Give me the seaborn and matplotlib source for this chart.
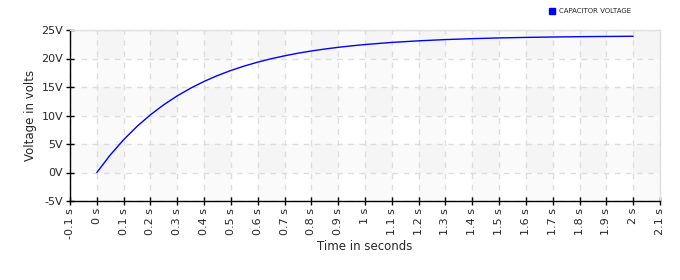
import matplotlib
matplotlib.use("Agg")
import matplotlib.pyplot as plt
import seaborn as sns
import pandas as pd
from matplotlib.lines import Line2D

# Data
time_s = [0.0, 0.05, 0.1, 0.15, 0.2, 0.25, 0.3, 0.35, 0.4, 0.45, 0.5, 0.55, 0.6,
          0.65, 0.7, 0.75, 0.8, 0.85, 0.9, 0.95, 1.0, 1.1, 1.2, 1.3, 1.4, 1.5,
          1.6, 1.7, 1.8, 1.9, 2.0]
voltage_v = [0.0, 3.07, 5.76, 8.09, 10.13, 11.90, 13.45, 14.80, 15.98, 17.01,
             17.90, 18.68, 19.36, 19.96, 20.47, 20.93, 21.32, 21.66, 21.96,
             22.22, 22.45, 22.82, 23.10, 23.32, 23.48, 23.61, 23.70, 23.77,
             23.83, 23.87, 23.90]
series_name = "CAPACITOR VOLTAGE"
x_ticks = [round(-0.1 + 0.1 * i, 1) for i in range(23)]
y_ticks = [-5, 0, 5, 10, 15, 20, 25]
x_label = "Time in seconds"
y_label = "Voltage in volts"

df = pd.DataFrame({"t": time_s, "v": voltage_v})

sns.set_style("white")
plt.rcParams["font.family"] = ["DejaVu Sans"]

fig = plt.figure(figsize=(6.8, 2.8), dpi=100)
ax = fig.add_axes([70 / 680, 1 - 201 / 280, 590 / 680, 171 / 280])

# alternating background bands
for k in range(1, 22, 2):
    ax.axvspan(x_ticks[k], x_ticks[k] + 0.1, color="#000000", alpha=0.018, lw=0, zorder=0)
for y0 in [0, 10, 20]:
    ax.axhspan(y0, y0 + 5, color="#000000", alpha=0.018, lw=0, zorder=0)

sns.lineplot(data=df, x="t", y="v", ax=ax, color="#0000ff", lw=1.0, zorder=3)

ax.set_xlim(-0.1, 2.1)
ax.set_ylim(-5, 25)
ax.set_xticks(x_ticks)
ax.set_xticklabels([f"{v:g} s" for v in x_ticks], rotation=90, fontsize=8)
ax.set_yticks(y_ticks)
ax.set_yticklabels([f"{v}V" for v in y_ticks], fontsize=8)
ax.tick_params(axis="both", which="major", bottom=True, left=True, direction="inout",
               length=6, width=1, color="black", pad=2)

ax.grid(True, color="#dddddd", linestyle=(0, (4, 4)), linewidth=1)
ax.set_axisbelow(True)

for side in ["left", "bottom"]:
    ax.spines[side].set_color("black")
    ax.spines[side].set_linewidth(1)
for side in ["top", "right"]:
    ax.spines[side].set_color("#e0e0e0")
    ax.spines[side].set_linewidth(1)

ax.set_xlabel(x_label, fontsize=8.5, labelpad=1)
ax.set_ylabel(y_label, fontsize=8.5, labelpad=3)

handle = Line2D([], [], marker="s", color="#0000ff", linestyle="none", markersize=5)
fig.legend([handle], [series_name], loc="upper left", bbox_to_anchor=(546 / 680, 1 - 5 / 280),
           frameon=False, fontsize=5, handlelength=0.8, handletextpad=0.6, borderpad=0)

fig.savefig("out.png", dpi=100)
